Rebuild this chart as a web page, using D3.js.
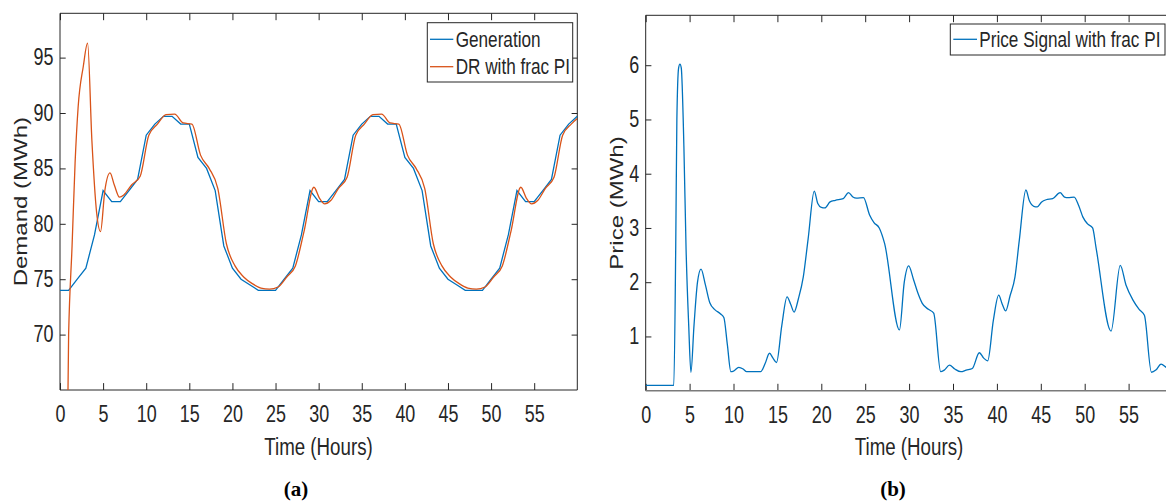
<!DOCTYPE html>
<html>
<head>
<meta charset="utf-8">
<script src="https://cdn.jsdelivr.net/npm/d3@7"></script>
<style>
  html, body { margin: 0; padding: 0; background: #fff; overflow: hidden; }
  svg { display: block; }
</style>
</head>
<body>
<svg id="chart" width="1166" height="502"></svg>
<script>
// ---------- data ----------
// Hourly generation (MWh), t = 0 … 60 h
const genHours = d3.range(0, 61);
const generation = [
  74, 74, 75, 76, 79, 83, 82, 82, 83, 84, 88, 89, 89.7, 89.7, 89, 89, 86, 85, 83, 78, 76, 75, 74.5, 74,
  74, 74, 75, 76, 79, 83, 82, 82, 83, 84, 88, 89, 89.7, 89.7, 89, 89, 86, 85, 83, 78, 76, 75, 74.5, 74,
  74, 74, 75, 76, 79, 83, 82, 82, 83, 84, 88, 89, 89.7
];

// Demand response with fractional PI controller
const drHours = [
  0, 1.0, 1.4, 1.75, 2.1, 2.7, 3.2, 3.7, 4.25, 4.7, 5.2, 5.8, 6.3, 6.9, 7.4, 8.3, 9.3,
  10.3, 11.3, 12.3, 13.3, 14.3, 15.3, 16.3, 17.3, 18.3, 19.3, 20.3, 21.3, 22.3, 23.3,
  24.3, 25.3, 26.3, 27.3, 28.3, 29.45, 30.1, 30.7, 31.4, 32.3, 33.3,
  34.3, 35.3, 36.3, 37.3, 38.3, 39.3, 40.3, 41.3, 42.3, 43.3, 44.3, 45.3, 46.3, 47.3,
  48.3, 49.3, 50.3, 51.3, 52.3, 53.45, 54.1, 54.7, 55.4, 56.3, 57.3, 58.3, 59.3, 60
];
const drValues = [
  0, 70, 78, 85.5, 90.5, 94.2, 96.3, 87.5, 81, 79.3, 83, 84.6, 83.5, 82.4, 82.6, 83.5, 84.3,
  88, 89, 89.85, 89.9, 89.1, 89, 86.2, 85, 83.2, 78.2, 76.2, 75.2, 74.6, 74.2,
  74.1, 74.3, 75.2, 76.2, 79.3, 83.3, 82.3, 81.8, 82.1, 83.2, 84.2,
  88, 89, 89.85, 89.9, 89.1, 89, 86.2, 85, 83.2, 78.2, 76.2, 75.2, 74.6, 74.2,
  74.1, 74.3, 75.2, 76.2, 79.3, 83.3, 82.3, 81.8, 82.1, 83.2, 84.2, 88, 89, 89.5
];

// Price signal with fractional PI controller
const priceHours = [
  0, 3.2, 3.42, 3.55, 3.75, 3.9, 4.05, 4.35, 4.6, 4.9, 5.15, 5.5, 5.9, 6.3, 6.8, 7.3, 7.9, 8.5, 8.9,
  9.3, 9.7, 10.0, 10.6, 11.1, 11.5, 13.1, 13.6, 14.1, 14.5, 14.9, 15.5, 16.1, 16.5, 16.9, 17.4,
  17.95, 18.5, 19.2, 19.6, 20.0, 20.4, 21.0, 21.6, 22.5, 23.1, 23.6, 24.0, 24.8, 25.5, 26.0, 26.6,
  27.2, 28.9, 29.45, 29.95, 30.5, 31.0, 31.5, 32.2, 32.8, 33.6, 34.0, 34.6, 35.2, 35.9, 36.5, 37.2,
  38.0, 38.5, 38.95, 39.6, 40.2, 40.6, 41.0, 41.5, 42.06, 42.55, 43.3, 43.7, 44.2, 44.6, 45.1, 45.6,
  46.35, 47.2, 47.7, 48.1, 48.8, 49.3, 49.8, 50.3, 50.9, 51.3, 53.0, 54.05, 54.7, 55.5, 56.2, 56.8,
  57.6, 58.1, 58.7, 59.3, 60
];
const priceValues = [
  0.1, 0.1, 2.65, 5.0, 5.95, 6.02, 5.95, 4.5, 2.6, 1.2, 0.34, 1.2, 2.0, 2.24, 1.95, 1.62, 1.49, 1.42, 1.35,
  0.85, 0.35, 0.36, 0.43, 0.4, 0.35, 0.35, 0.5, 0.69, 0.6, 0.52, 1.2, 1.73, 1.6, 1.45, 1.7,
  2.1, 2.8, 3.68, 3.45, 3.38, 3.37, 3.48, 3.51, 3.54, 3.65, 3.57, 3.55, 3.56, 3.24, 3.1, 3.0,
  2.72, 1.12, 2.0, 2.3, 2.05, 1.8, 1.61, 1.5, 1.43, 0.35, 0.38, 0.47, 0.4, 0.35, 0.38, 0.41,
  0.7, 0.6, 0.55, 1.3, 1.76, 1.6, 1.47, 1.75, 2.1, 2.77, 3.7, 3.5, 3.4, 3.39, 3.48, 3.52,
  3.54, 3.65, 3.57, 3.56, 3.57, 3.42, 3.2, 3.08, 3.0, 2.63, 1.1, 2.31, 1.95, 1.67, 1.5, 1.39,
  0.34, 0.38, 0.49, 0.43, 0.38
];

// Axis ticks
const hourTicks = [0, 5, 10, 15, 20, 25, 30, 35, 40, 45, 50, 55];
const demandTicks = [70, 75, 80, 85, 90, 95];
const priceTicks = [1, 2, 3, 4, 5, 6];

// ---------- style ----------
const INK = "#262626";
const BLUE = "#0072BD";
const ORANGE = "#D95319";
const FONT = "'Liberation Sans', Arial, Helvetica, sans-serif";
const SERIF = "'Liberation Serif', 'Times New Roman', serif";
const SX = 0.78;          // horizontal squeeze of the sans glyphs
const TICK_V = 6.9;       // tick length on horizontal axes
const TICK_H = 5.7;       // tick length on vertical axes
const fmt = d3.format("~g");

const svg = d3.select("#chart");
const defs = svg.append("defs");

function text(g, x, y, str, size, anchor, rotate) {
  return g.append("text")
    .attr("transform", `translate(${x},${y}) scale(${SX},1)` + (rotate ? " rotate(-90)" : ""))
    .attr("font-family", FONT)
    .attr("font-size", size)
    .attr("text-anchor", anchor)
    .attr("fill", INK)
    .text(str);
}

function panel(cfg) {
  const { x, y, yTicks, clipId, bottomStroke } = cfg;
  const [L, R] = x.range();
  const [B, T] = y.range();
  const g = svg.append("g");

  defs.append("clipPath").attr("id", clipId)
    .append("rect").attr("x", L).attr("y", T).attr("width", R - L).attr("height", B - T);

  const axB = g.append("g").attr("transform", `translate(0,${B})`)
    .call(d3.axisBottom(x).tickValues(hourTicks).tickFormat(fmt)
      .tickSizeInner(-TICK_V).tickSizeOuter(0).tickPadding(16));
  const axT = g.append("g").attr("transform", `translate(0,${T})`)
    .call(d3.axisTop(x).tickValues(hourTicks).tickSizeInner(-TICK_V).tickSizeOuter(0).tickFormat(""));
  const axL = g.append("g").attr("transform", `translate(${L},0)`)
    .call(d3.axisLeft(y).tickValues(yTicks).tickFormat(fmt)
      .tickSizeInner(-TICK_H).tickSizeOuter(0).tickPadding(6.5));
  const axR = g.append("g").attr("transform", `translate(${R},0)`)
    .call(d3.axisRight(y).tickValues(yTicks).tickSizeInner(-TICK_H).tickSizeOuter(0).tickFormat(""));

  [axB, axT, axL, axR].forEach(a => {
    a.select(".domain").remove();
    a.selectAll(".tick line").attr("stroke", INK).attr("stroke-width", 1);
  });
  [axB, axL].forEach(a => {
    a.selectAll(".tick text")
      .attr("font-family", FONT).attr("font-size", 23).attr("fill", INK)
      .attr("transform", `scale(${SX},1)`);
  });
  axL.selectAll(".tick text").attr("x", -6.5 / SX);

  // axes box
  const box = g.append("g").attr("fill", "none");
  box.append("line").attr("x1", L).attr("x2", L).attr("y1", T).attr("y2", B).attr("stroke", INK);
  box.append("line").attr("x1", R).attr("x2", R).attr("y1", T).attr("y2", B).attr("stroke", INK);
  box.append("line").attr("x1", L).attr("x2", R).attr("y1", T).attr("y2", T).attr("stroke", INK);
  box.append("line").attr("x1", L).attr("x2", R).attr("y1", B).attr("y2", B)
    .attr("stroke", bottomStroke || INK).attr("stroke-width", bottomStroke ? 1.6 : 1);

  const plot = g.append("g").attr("clip-path", `url(#${clipId})`);
  return { g, plot, L, R, T, B };
}

// ---------- (a) demand ----------
const xA = d3.scaleLinear().domain([0, 60]).range([60, 577.3]);
const yA = d3.scaleLinear().domain([65, 99]).range([390, 13.3]);
const pA = panel({ x: xA, y: yA, yTicks: demandTicks, clipId: "clipA" });

pA.plot.append("path")
  .datum(genHours.map((h, i) => [h, generation[i]]))
  .attr("fill", "none").attr("stroke", BLUE).attr("stroke-width", 1.3)
  .attr("d", d3.line().x(d => xA(d[0])).y(d => yA(d[1])));

pA.plot.append("path")
  .datum(drHours.map((h, i) => [h, drValues[i]]))
  .attr("fill", "none").attr("stroke", ORANGE).attr("stroke-width", 1.3)
  .attr("d", d3.line().curve(d3.curveMonotoneX).x(d => xA(d[0])).y(d => yA(d[1])));

text(svg, 318.5, 455, "Time (Hours)", 24, "middle");
text(svg, 27, 201.7, "Demand (MWh)", 24, "middle", true);

// legend (a)
const legA = svg.append("g");
legA.append("rect").attr("x", 427.3).attr("y", 22.7).attr("width", 145.4).attr("height", 59.3)
  .attr("fill", "#fff").attr("stroke", INK).attr("stroke-width", 1);
[["Generation", BLUE, 39.3], ["DR with frac PI", ORANGE, 66.7]].forEach(([name, col, ly]) => {
  legA.append("line").attr("x1", 430).attr("x2", 453.3).attr("y1", ly).attr("y2", ly)
    .attr("stroke", col).attr("stroke-width", 1.3);
  text(legA, 455.7, ly + 7.5, name, 22, "start");
});

// ---------- (b) price ----------
const xB = d3.scaleLinear().domain([0, 60]).range([645.7, 1172.5]);
const yB = d3.scaleLinear().domain([0, 6.92]).range([390.7, 15.3]);
const pB = panel({ x: xB, y: yB, yTicks: priceTicks, clipId: "clipB", bottomStroke: "#7a7a7a" });

pB.plot.append("path")
  .datum(priceHours.map((h, i) => [h, priceValues[i]]))
  .attr("fill", "none").attr("stroke", BLUE).attr("stroke-width", 1.3)
  .attr("d", d3.line().curve(d3.curveMonotoneX).x(d => xB(d[0])).y(d => yB(d[1])));

text(svg, 909, 455, "Time (Hours)", 24, "middle");
text(svg, 623, 203, "Price (MWh)", 24, "middle", true);

// legend (b)
const legB = svg.append("g");
legB.append("rect").attr("x", 950.3).attr("y", 24).attr("width", 214.7).attr("height", 31)
  .attr("fill", "#fff").attr("stroke", INK).attr("stroke-width", 1);
legB.append("line").attr("x1", 953.3).attr("x2", 977).attr("y1", 39.3).attr("y2", 39.3)
  .attr("stroke", BLUE).attr("stroke-width", 1.3);
text(legB, 979.3, 46.8, "Price Signal with frac PI", 22, "start");

// ---------- sub-figure captions ----------
[["(a)", 296], ["(b)", 893]].forEach(([cap, cx]) => {
  svg.append("text")
    .attr("x", cx).attr("y", 496)
    .attr("font-family", SERIF).attr("font-weight", "bold").attr("font-size", 21)
    .attr("text-anchor", "middle").attr("fill", "#000")
    .text(cap);
});
</script>
</body>
</html>
